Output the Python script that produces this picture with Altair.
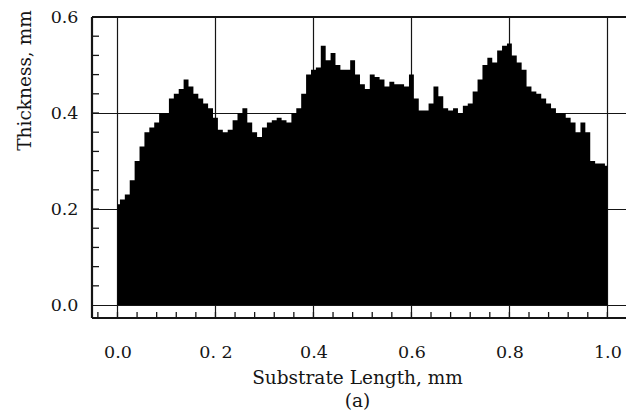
import altair as alt
import pandas as pd

# Coating thickness profile along the substrate (mm), sampled every 0.01 mm
length_mm = [round(i * 0.01, 2) for i in range(101)]
thickness_mm = [
    0.21, 0.22, 0.23, 0.26, 0.30, 0.33, 0.36, 0.37, 0.38, 0.40,
    0.40, 0.43, 0.44, 0.45, 0.47, 0.455, 0.44, 0.43, 0.42, 0.41,
    0.39, 0.365, 0.36, 0.365, 0.385, 0.40, 0.41, 0.38, 0.36, 0.35,
    0.37, 0.38, 0.385, 0.39, 0.385, 0.38, 0.40, 0.41, 0.44, 0.48,
    0.49, 0.495, 0.54, 0.51, 0.525, 0.50, 0.49, 0.49, 0.51, 0.48,
    0.46, 0.45, 0.48, 0.475, 0.47, 0.455, 0.465, 0.46, 0.46, 0.455,
    0.48, 0.43, 0.405, 0.405, 0.42, 0.455, 0.435, 0.41, 0.405, 0.41,
    0.40, 0.415, 0.42, 0.445, 0.47, 0.50, 0.515, 0.505, 0.53, 0.54,
    0.545, 0.52, 0.505, 0.49, 0.455, 0.445, 0.44, 0.43, 0.42, 0.41,
    0.40, 0.40, 0.39, 0.38, 0.36, 0.38, 0.36, 0.30, 0.295, 0.295,
    0.29,
]

x_ticks = [0.0, 0.2, 0.4, 0.6, 0.8, 1.0]
x_tick_labels = ["0.0", "0. 2", "0.4", "0.6", "0.8", "1.0"]
y_ticks = [0.0, 0.2, 0.4, 0.6]
x_minor = [round(-0.04 + 0.04 * i, 2) for i in range(27)]
y_minor = [round(0.04 * i, 2) for i in range(1, 15)]

W, H = 534, 301
FONT = "DejaVu Serif"
INK = "#151515"

profile = pd.DataFrame({"x": length_mm, "t": thickness_mm})
xscale = alt.Scale(domain=[-0.052, 1.038], nice=False, zero=False)
yscale = alt.Scale(domain=[-0.027, 0.6], nice=False, zero=False)

label_expr = "[" + ",".join(f"'{s}'" for s in x_tick_labels) + "][round(datum.value*5)]"

area = alt.Chart(profile).mark_area(color="black", interpolate="step", opacity=1).encode(
    x=alt.X(
        "x:Q",
        scale=xscale,
        axis=alt.Axis(
            values=x_ticks,
            labelExpr=label_expr,
            grid=True,
            gridColor=INK,
            gridWidth=1.2,
            gridOpacity=1,
            ticks=False,
            tickSize=0,
            domain=False,
            labelFont=FONT,
            labelFontSize=17.5,
            labelColor=INK,
            labelBaseline="middle",
            labelPadding=34,
            title=["Substrate Length, mm", "(a)"],
            titleFont=FONT,
            titleFontSize=18.5,
            titleFontWeight="normal",
            titleColor=INK,
            titleLineHeight=23,
            titleBaseline="middle",
            titleAlign="center",
            titleX=265,
            titleY=59,
        ),
    ),
    y=alt.Y(
        "t:Q",
        scale=yscale,
        axis=alt.Axis(
            values=y_ticks,
            format=".1f",
            grid=True,
            gridColor=INK,
            gridWidth=1.2,
            gridOpacity=1,
            ticks=False,
            tickSize=0,
            domain=False,
            labelFont=FONT,
            labelFontSize=17.5,
            labelColor=INK,
            labelBaseline="middle",
            labelPadding=14,
            title="Thickness, mm",
            titleFont=FONT,
            titleFontSize=18.5,
            titleFontWeight="normal",
            titleColor=INK,
            titleAngle=270,
            titleBaseline="middle",
            titleAlign="center",
            titleX=-68,
            titleY=63,
        ),
    ),
    y2=alt.datum(0),
)

# Inward minor ticks on the left and bottom frame edges
left_ticks = alt.Chart(pd.DataFrame({"t": y_minor})).mark_rule(color=INK, strokeWidth=1.3).encode(
    y=alt.Y("t:Q", scale=yscale),
    x=alt.value(0),
    x2=alt.value(7),
)
bottom_ticks = alt.Chart(pd.DataFrame({"x": x_minor})).mark_rule(color=INK, strokeWidth=1.3).encode(
    x=alt.X("x:Q", scale=xscale),
    y=alt.value(H),
    y2=alt.value(H - 6),
)

# Open frame: top, left and bottom edges
one = pd.DataFrame({"k": [0]})
frame_top = alt.Chart(one).mark_rule(color=INK, strokeWidth=2.2).encode(
    x=alt.value(0), x2=alt.value(W), y=alt.value(0)
)
frame_left = alt.Chart(one).mark_rule(color=INK, strokeWidth=2.2).encode(
    x=alt.value(0), y=alt.value(0), y2=alt.value(H)
)
frame_bottom = alt.Chart(one).mark_rule(color=INK, strokeWidth=2.2).encode(
    x=alt.value(0), x2=alt.value(W), y=alt.value(H)
)

chart = alt.layer(area, left_ticks, bottom_ticks, frame_top, frame_left, frame_bottom).properties(
    width=W,
    height=H,
    autosize=alt.AutoSizeParams(type="none"),
    padding={"left": 92, "top": 17, "right": 0, "bottom": 93},
    background="white",
).configure_view(stroke=None)

chart.save("out.html", embed_options={"renderer": "svg", "actions": False})
